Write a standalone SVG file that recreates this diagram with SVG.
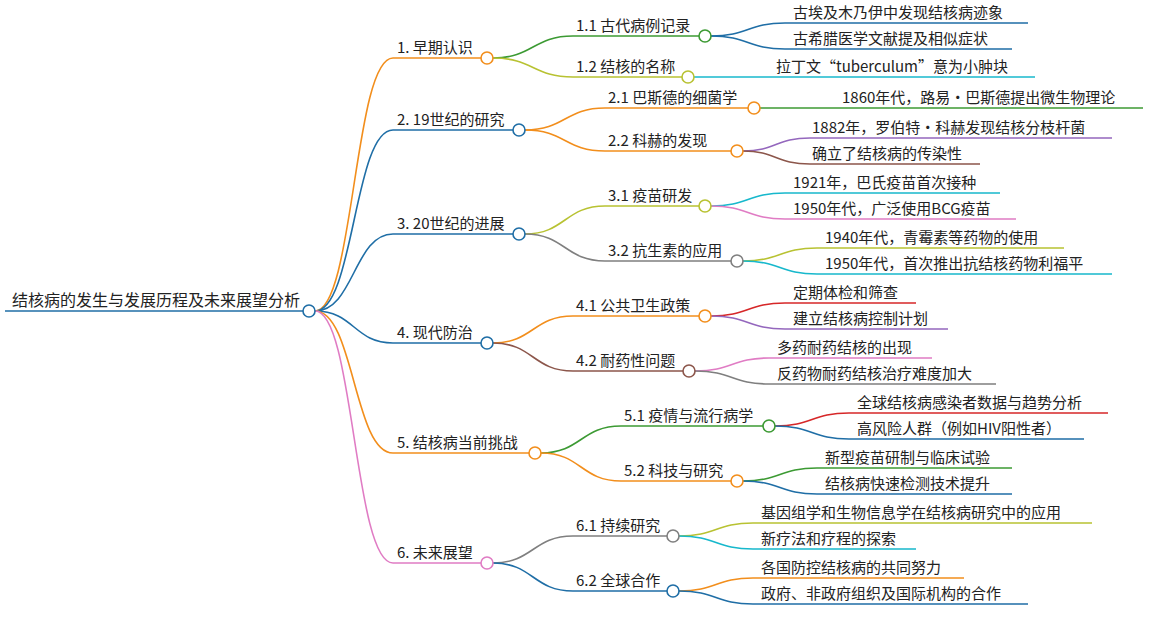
<svg xmlns="http://www.w3.org/2000/svg" width="1149" height="624" viewBox="0 0 1149 624">
<style>
text{font-family:"Noto Sans CJK SC","Noto Sans",sans-serif;font-size:15px;fill:#222}
.r{font-size:16px}
path{fill:none;stroke-width:1.6}
circle{fill:#fff;stroke-width:1.6}
.o{stroke:#f28e1c}.b{stroke:#1f6ea6}.g{stroke:#3c9a33}.y{stroke:#b8c232}.p{stroke:#e07cc4}.gr{stroke:#7f7f7f}.br{stroke:#8c564b}.pu{stroke:#9467bd}.t{stroke:#17b8cc}.rd{stroke:#d62728}
</style>
<rect width="1149" height="624" fill="#fff"/>
<g id="connectors">
<path class="o" stroke-width="2" d="M315 311 C354 311 354 58 393 58 H481"/>
<path class="b" stroke-width="2" d="M315 311 C354 311 354 130 393 130 H513"/>
<path class="b" stroke-width="2" d="M315 311 C354 311 354 234 393 234 H513"/>
<path class="b" stroke-width="2" d="M315 311 C354 311 354 343 393 343 H481"/>
<path class="o" stroke-width="2" d="M315 311 C354 311 354 453 393 453 H529"/>
<path class="p" stroke-width="2" d="M315 311 C354 311 354 563 393 563 H481"/>
<path class="g" d="M493 58 C533 58 533 36 573 36 H699"/>
<path class="y" d="M493 58 C533 58 533 77 573 77 H682"/>
<path class="o" d="M525 130 C565 130 565 108 605 108 H748"/>
<path class="o" d="M525 130 C565 130 565 151 605 151 H731"/>
<path class="y" d="M525 234 C565 234 565 206 605 206 H699"/>
<path class="gr" d="M525 234 C565 234 565 261 605 261 H731"/>
<path class="o" d="M493 343 C533 343 533 316 573 316 H699"/>
<path class="br" d="M493 343 C533 343 533 371 573 371 H683"/>
<path class="g" d="M541 453 C581 453 581 426 621 426 H763"/>
<path class="o" d="M541 453 C581 453 581 481 621 481 H731"/>
<path class="gr" d="M493 563 C533 563 533 536 573 536 H667"/>
<path class="b" d="M493 563 C533 563 533 591 573 591 H667"/>
<path class="b" d="M711 36 C748 36 748 23 785 23 H1028"/>
<path class="b" d="M711 36 C748 36 748 49 785 49 H1012"/>
<path class="t" d="M694 77 C731 77 731 77 768 77 H1035"/>
<path class="g" d="M760 108 C797 108 797 108 834 108 H1143"/>
<path class="pu" d="M743 151 C776 151 776 138 810 138 H1112"/>
<path class="br" d="M743 151 C776 151 776 164 810 164 H980"/>
<path class="t" d="M711 206 C748 206 748 193 785 193 H1000"/>
<path class="p" d="M711 206 C748 206 748 219 785 219 H1016"/>
<path class="y" d="M743 261 C780 261 780 248 817 248 H1064"/>
<path class="t" d="M743 261 C780 261 780 274 817 274 H1112"/>
<path class="rd" d="M711 316 C748 316 748 303 785 303 H916"/>
<path class="pu" d="M711 316 C748 316 748 329 785 329 H948"/>
<path class="p" d="M695 371 C732 371 732 358 769 358 H932"/>
<path class="gr" d="M695 371 C732 371 732 384 769 384 H996"/>
<path class="rd" d="M775 426 C812 426 812 413 849 413 H1108"/>
<path class="b" d="M775 426 C812 426 812 439 849 439 H1084"/>
<path class="g" d="M743 481 C780 481 780 468 817 468 H1012"/>
<path class="b" d="M743 481 C780 481 780 494 817 494 H1012"/>
<path class="y" d="M679 536 C716 536 716 523 753 523 H1092"/>
<path class="t" d="M679 536 C716 536 716 549 753 549 H916"/>
<path class="o" d="M679 591 C716 591 716 578 753 578 H964"/>
<path class="b" d="M679 591 C716 591 716 604 753 604 H1028"/>
</g>
<g id="root"><path class="b" stroke-width="3" d="M5 311 H303"/><circle class="b" cx="309" cy="311" r="6"/><text class="r" x="12" y="306">结核病的发生与发展历程及未来展望分析</text></g>
<g id="n1"><circle class="o" cx="487" cy="58" r="6"/><text x="397" y="53">1. 早期认识</text></g>
<g id="n2"><circle class="b" cx="519" cy="130" r="6"/><text x="397" y="125">2. 19世纪的研究</text></g>
<g id="n3"><circle class="b" cx="519" cy="234" r="6"/><text x="397" y="229">3. 20世纪的进展</text></g>
<g id="n4"><circle class="b" cx="487" cy="343" r="6"/><text x="397" y="338">4. 现代防治</text></g>
<g id="n5"><circle class="o" cx="535" cy="453" r="6"/><text x="397" y="448">5. 结核病当前挑战</text></g>
<g id="n6"><circle class="p" cx="487" cy="563" r="6"/><text x="397" y="558">6. 未来展望</text></g>
<g id="n11"><circle class="g" cx="705" cy="36" r="6"/><text x="576" y="31">1.1 古代病例记录</text></g>
<g id="n12"><circle class="y" cx="688" cy="77" r="6"/><text x="576" y="72">1.2 结核的名称</text></g>
<g id="n21"><circle class="o" cx="754" cy="108" r="6"/><text x="608" y="103">2.1 巴斯德的细菌学</text></g>
<g id="n22"><circle class="o" cx="737" cy="151" r="6"/><text x="608" y="146">2.2 科赫的发现</text></g>
<g id="n31"><circle class="y" cx="705" cy="206" r="6"/><text x="608" y="201">3.1 疫苗研发</text></g>
<g id="n32"><circle class="gr" cx="737" cy="261" r="6"/><text x="608" y="256">3.2 抗生素的应用</text></g>
<g id="n41"><circle class="o" cx="705" cy="316" r="6"/><text x="576" y="311">4.1 公共卫生政策</text></g>
<g id="n42"><circle class="br" cx="689" cy="371" r="6"/><text x="576" y="366">4.2 耐药性问题</text></g>
<g id="n51"><circle class="g" cx="769" cy="426" r="6"/><text x="624" y="421">5.1 疫情与流行病学</text></g>
<g id="n52"><circle class="o" cx="737" cy="481" r="6"/><text x="624" y="476">5.2 科技与研究</text></g>
<g id="n61"><circle class="gr" cx="673" cy="536" r="6"/><text x="576" y="531">6.1 持续研究</text></g>
<g id="n62"><circle class="b" cx="673" cy="591" r="6"/><text x="576" y="586">6.2 全球合作</text></g>
<g id="leaves">
<text x="793" y="18">古埃及木乃伊中发现结核病迹象</text>
<text x="793" y="44">古希腊医学文献提及相似症状</text>
<text x="776" y="72">拉丁文“tuberculum”意为小肿块</text>
<text x="842" y="103">1860年代，路易・巴斯德提出微生物理论</text>
<text x="812" y="133">1882年，罗伯特・科赫发现结核分枝杆菌</text>
<text x="812" y="159">确立了结核病的传染性</text>
<text x="793" y="188">1921年，巴氏疫苗首次接种</text>
<text x="793" y="214">1950年代，广泛使用BCG疫苗</text>
<text x="825" y="243">1940年代，青霉素等药物的使用</text>
<text x="825" y="269">1950年代，首次推出抗结核药物利福平</text>
<text x="793" y="298">定期体检和筛查</text>
<text x="793" y="324">建立结核病控制计划</text>
<text x="777" y="353">多药耐药结核的出现</text>
<text x="777" y="379">反药物耐药结核治疗难度加大</text>
<text x="857" y="408">全球结核病感染者数据与趋势分析</text>
<text x="857" y="434">高风险人群（例如HIV阳性者）</text>
<text x="825" y="463">新型疫苗研制与临床试验</text>
<text x="825" y="489">结核病快速检测技术提升</text>
<text x="761" y="518">基因组学和生物信息学在结核病研究中的应用</text>
<text x="761" y="544">新疗法和疗程的探索</text>
<text x="761" y="573">各国防控结核病的共同努力</text>
<text x="761" y="599">政府、非政府组织及国际机构的合作</text>
</g>
</svg>
